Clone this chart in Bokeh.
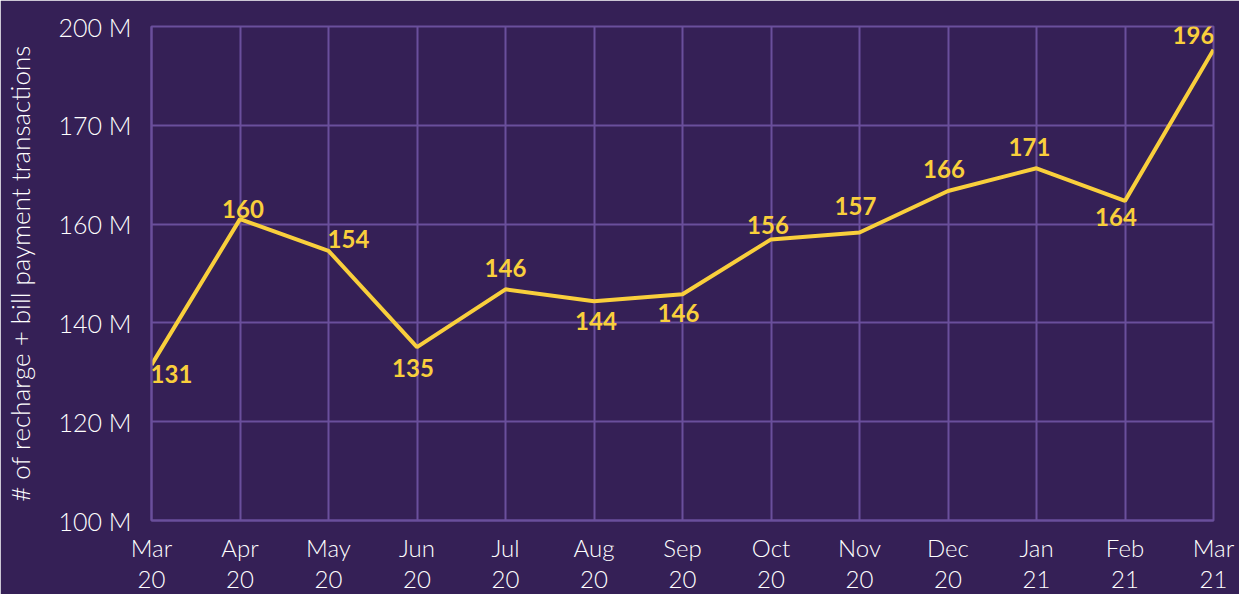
from bokeh.plotting import figure
from bokeh.models import Range1d, ColumnDataSource, FixedTicker, LinearAxis, LabelSet
from bokeh.core.properties import value
from bokeh.embed import file_html
from bokeh.resources import INLINE

months = ["Mar", "Apr", "May", "Jun", "Jul", "Aug", "Sep", "Oct", "Nov", "Dec", "Jan", "Feb", "Mar"]
years = ["20", "20", "20", "20", "20", "20", "20", "20", "20", "20", "21", "21", "21"]
transactions = [131.5, 161.0, 154.6, 135.1, 146.8, 144.4, 145.8, 156.9, 158.3, 166.7, 171.3, 164.7, 195.3]
point_labels = ["131", "160", "154", "135", "146", "144", "146", "156", "157", "166", "171", "164", "196"]
y_ticks = [100, 120, 140, 160, 180, 200]
y_tick_labels = ["100 M", "120 M", "140 M", "160 M", "170 M", "200 M"]

# label placement (screen offsets in px, positive dy = upward)
label_dx = [20, 3, 20, -4, 0, 2, -4, -3, -4, -4, -7, -9, -20]
label_dy = [-9, 10, 12, -21, 21, -20, -19, 14, 26, 22, 21, -16, 15]

BG = "#352056"
GRID = "#6a4f9c"
YELLOW = "#f9cf3c"
FONT = "Lato"
LIGHT = "Lato Light"

x = list(range(len(months)))
src = ColumnDataSource(dict(x=x, y=transactions, lab=point_labels, dx=label_dx, dy=label_dy))

p = figure(width=1239, height=594, output_backend="svg", toolbar_location=None,
           x_range=Range1d(0, 12), y_range=Range1d(100, 200),
           background_fill_color=BG, border_fill_color=BG,
           min_border_left=143, min_border_right=26, min_border_top=26, min_border_bottom=74)
p.outline_line_color = GRID
p.outline_line_width = 2

p.line("x", "y", source=src, line_color=YELLOW, line_width=4)
labels = LabelSet(x="x", y="y", text="lab", source=src, x_offset="dx", y_offset="dy",
                  text_align="center", text_baseline="middle", text_color=YELLOW,
                  text_font=value(FONT), text_font_size="24px", text_font_style="bold",
                  level="overlay")
p.add_layout(labels)

year_axis = LinearAxis()
p.add_layout(year_axis, "below")

p.xaxis[0].ticker = FixedTicker(ticks=x)
p.xaxis[0].major_label_overrides = {i: m for i, m in enumerate(months)}
year_axis.ticker = FixedTicker(ticks=x)
year_axis.major_label_overrides = {i: yv for i, yv in enumerate(years)}
p.yaxis.ticker = FixedTicker(ticks=y_ticks)
p.yaxis.major_label_overrides = {t: l for t, l in zip(y_ticks, y_tick_labels)}

for ax in (p.xaxis[0], year_axis, p.yaxis[0]):
    ax.axis_line_color = GRID
    ax.axis_line_width = 2
    ax.major_tick_line_color = None
    ax.minor_tick_line_color = None
    ax.major_label_text_color = "#ffffff"
    ax.major_label_text_font = LIGHT
    ax.major_label_text_font_size = "25px"
    ax.major_label_standoff = 14

for ax in (p.xaxis[0], year_axis):
    ax.major_label_text_font_size = "24px"
year_axis.axis_line_color = None
year_axis.major_label_standoff = 0
p.xaxis[0].major_label_standoff = 6

p.yaxis.axis_label = "# of recharge + bill payment transactions"
p.yaxis.axis_label_text_color = "#ffffff"
p.yaxis.axis_label_text_font = LIGHT
p.yaxis.axis_label_text_font_size = "26px"
p.yaxis.axis_label_text_font_style = "normal"
p.yaxis.axis_label_standoff = 20

p.grid.grid_line_color = GRID
p.grid.grid_line_width = 2

open("out.html", "w").write(file_html(p, INLINE))
